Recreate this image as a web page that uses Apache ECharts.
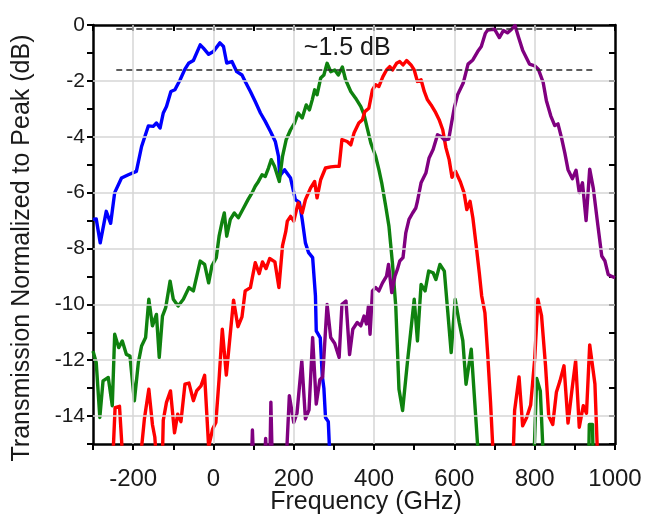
<!DOCTYPE html>
<html><head><meta charset="utf-8">
<script src="https://cdn.jsdelivr.net/npm/echarts@6/dist/echarts.min.js"></script>
<style>html,body{margin:0;padding:0;background:#fff}#c{width:646px;height:515px}</style>
</head><body><div id="c"></div>
<script>
// Frequency (GHz), transmission normalized to peak (dB); values below -15 are clipped by the axis
const blueData = [[-300,-6.96],[-292,-6.94],[-282,-7.8],[-267,-6.67],[-256,-7.1],[-246,-6.0],[-229,-5.48],[-212,-5.36],[-192,-5.24],[-179,-4.35],[-162,-3.61],[-150,-3.63],[-142,-3.51],[-133,-3.69],[-125,-3.15],[-117,-2.92],[-106,-2.38],[-96,-2.32],[-83,-1.96],[-71,-1.58],[-62,-1.37],[-50,-1.27],[-33,-0.71],[-25,-0.83],[-12,-1.05],[0,-0.95],[16,-0.64],[25,-0.77],[33,-1.36],[46,-1.31],[58,-1.67],[71,-1.79],[79,-2.02],[92,-2.38],[104,-2.74],[117,-3.15],[129,-3.45],[142,-3.81],[154,-4.17],[162,-4.7],[165,-5.4],[177,-5.18],[192,-5.48],[204,-6.25],[214,-6.35],[221,-6.96],[229,-7.8],[237,-8.15],[247,-8.33],[254,-9.7],[256,-10.95],[266,-11.2],[271,-12.56],[275,-13.0],[279,-14.05],[286,-14.2],[290,-15.5]];
const greenData = [[-300,-11.67],[-292,-12.08],[-283,-14.05],[-275,-12.74],[-262,-12.62],[-252,-13.63],[-246,-11.07],[-236,-11.55],[-227,-11.31],[-217,-11.79],[-208,-11.85],[-197,-13.45],[-187,-12.08],[-179,-11.49],[-169,-11.19],[-161,-9.82],[-152,-10.77],[-142,-10.36],[-135,-11.9],[-127,-10.42],[-119,-10.12],[-108,-9.17],[-100,-9.82],[-88,-10.06],[-75,-9.82],[-61,-9.4],[-50,-9.52],[-33,-8.45],[-22,-8.57],[-12,-9.23],[-4,-8.63],[7,-8.33],[14,-7.56],[21,-7.08],[27,-6.73],[33,-7.56],[42,-6.96],[52,-6.73],[62,-6.9],[75,-6.55],[86,-6.25],[96,-6.01],[104,-5.77],[112,-5.6],[121,-5.36],[129,-5.42],[137,-5.12],[144,-4.82],[152,-5.06],[164,-5.6],[172,-4.7],[181,-4.11],[192,-3.75],[202,-3.51],[211,-3.15],[221,-3.33],[231,-2.86],[239,-3.04],[246,-2.68],[252,-2.32],[258,-2.5],[267,-1.9],[275,-1.79],[283,-1.37],[292,-1.67],[302,-1.61],[311,-1.79],[321,-1.5],[329,-1.96],[342,-2.38],[354,-2.62],[367,-2.92],[375,-3.21],[383,-3.69],[392,-4.23],[404,-4.7],[412,-5.18],[419,-5.65],[429,-6.49],[437,-7.2],[446,-8.57],[454,-10.06],[462,-13.04],[471,-13.8],[483,-12.08],[500,-9.82],[508,-11.31],[517,-9.29],[527,-9.52],[536,-8.81],[547,-8.87],[554,-9.11],[564,-8.57],[575,-8.81],[583,-10.18],[592,-11.73],[602,-9.82],[612,-10.65],[621,-11.3],[629,-12.86],[642,-11.61],[648,-12.92],[660,-15.5],[700,-16],[797,-16],[805,-12.65],[814,-13.1],[823,-16],[934,-16],[936,-14.3],[944,-14.3],[946,-16]];
const redData = [[-252,-16],[-245,-13.7],[-234,-13.65],[-224,-16],[-185,-16],[-172,-14.1],[-161,-13.04],[-152,-14.3],[-146,-14.76],[-140,-16],[-128,-16],[-125,-14.15],[-117,-13.51],[-107,-13.1],[-97,-14.6],[-89,-13.93],[-81,-14.2],[-71,-12.86],[-61,-12.82],[-50,-13.45],[-42,-13.1],[-31,-12.92],[-22,-12.54],[-12,-15.1],[-2,-14.46],[6,-14.23],[14,-12.68],[22,-10.89],[32,-12.53],[50,-9.85],[61,-10.8],[71,-10.45],[79,-9.52],[92,-9.4],[104,-8.51],[114,-8.9],[122,-8.48],[131,-8.72],[140,-8.36],[153,-8.48],[163,-9.4],[172,-7.9],[180,-7.4],[184,-7.02],[192,-6.85],[200,-7.02],[211,-6.37],[221,-6.73],[229,-6.25],[242,-5.83],[252,-5.6],[258,-6.19],[267,-5.54],[279,-5.12],[292,-5.08],[304,-5.06],[313,-5.06],[320,-4.1],[333,-4.17],[342,-4.29],[350,-3.87],[362,-3.51],[371,-3.39],[377,-3.1],[387,-2.98],[396,-2.32],[404,-2.14],[412,-2.2],[422,-1.85],[431,-1.61],[439,-1.49],[446,-1.61],[456,-1.37],[464,-1.31],[472,-1.43],[481,-1.27],[492,-1.43],[500,-1.61],[508,-2.02],[517,-1.96],[525,-2.38],[533,-2.68],[542,-2.86],[552,-3.1],[562,-3.39],[571,-3.75],[579,-4.4],[587,-4.82],[594,-5.45],[603,-5.24],[615,-5.62],[624,-6.0],[631,-6.61],[639,-6.31],[646,-6.9],[654,-7.86],[662,-8.87],[668,-9.7],[676,-10.3],[683,-11.8],[690,-13.5],[697,-15.5],[745,-16],[750,-13.8],[761,-12.6],[770,-14.35],[780,-14.05],[790,-13.6],[800,-11.96],[808,-9.82],[817,-10.4],[827,-12.2],[835,-14.0],[845,-14.3],[854,-13.15],[863,-12.74],[873,-12.2],[883,-14.25],[893,-13.04],[902,-12.02],[911,-14.4],[921,-13.63],[929,-13.9],[937,-11.45],[950,-12.85],[958,-16]];
const purpleData = [[94,-16],[97,-14.5],[101,-16],[126,-16],[130,-14.8],[134,-16],[140,-16],[143,-13.5],[147,-16],[180,-16],[189,-13.27],[200,-14.23],[208,-13.9],[220,-12.02],[229,-14.1],[238,-13.78],[247,-11.19],[256,-13.57],[265,-12.7],[272,-12.6],[283,-10.0],[292,-11.19],[302,-11.4],[313,-11.9],[320,-10.0],[330,-9.88],[339,-11.8],[347,-10.89],[358,-10.65],[367,-10.77],[375,-10.42],[381,-10.7],[386,-10.06],[390,-11.07],[396,-9.52],[404,-9.4],[412,-9.52],[421,-9.23],[431,-8.99],[436,-8.57],[444,-9.58],[452,-8.99],[458,-8.75],[464,-8.45],[472,-8.33],[479,-7.44],[487,-6.96],[496,-6.73],[504,-6.55],[508,-6.31],[517,-5.65],[529,-5.3],[537,-4.76],[547,-4.46],[558,-3.93],[568,-4.0],[575,-4.11],[586,-4.08],[593,-3.5],[600,-2.95],[608,-2.5],[622,-2.08],[634,-1.4],[646,-1.25],[658,-0.95],[667,-0.77],[677,-0.3],[683,-0.18],[692,-0.16],[700,-0.15],[712,-0.45],[722,-0.2],[732,-0.28],[742,-0.16],[751,-0.02],[760,-0.45],[770,-0.9],[787,-1.4],[800,-1.46],[809,-1.58],[821,-2.05],[829,-2.7],[840,-3.25],[850,-3.6],[858,-3.54],[867,-4.05],[875,-4.58],[883,-5.18],[894,-5.5],[903,-5.2],[911,-6.0],[919,-5.65],[928,-7.0],[937,-5.16],[946,-5.85],[956,-7.02],[967,-8.27],[975,-8.45],[983,-8.93],[992,-9.0],[1000,-9.05]];

const xGridValues = [-200, 0, 200, 400, 600, 800];
const yGridValues = [-2, -4, -6, -8, -10, -12, -14];
const dashLevels = [-0.15, -1.6];
const dashSpan = [-242, 950];
const annotationText = '~1.5 dB';
const annotationAt = [225, -0.82];
const xTitle = 'Frequency (GHz)';
const yTitle = 'Transmission Normalized to Peak (dB)';

const FONT = '"Liberation Sans", Arial, sans-serif';
const TXT = '#1a1a1a';
const chart = echarts.init(document.getElementById('c'), null, {renderer: 'canvas'});

function curve(name, data, color) {
  return {type: 'line', name, data, symbol: 'none', showSymbol: false, clip: true, z: 3,
    lineStyle: {color, width: 3.4, join: 'round'}, emphasis: {disabled: true}};
}
const axisLineStyle = {show: true, onZero: false, lineStyle: {color: '#000', width: 2.5}};

chart.setOption({
  animation: false,
  backgroundColor: '#fff',
  grid: {left: 93, right: 31, top: 25, bottom: 71},
  xAxis: [
    {type: 'value', min: -300, max: 1000, interval: 100, position: 'bottom',
     axisLine: axisLineStyle,
     axisTick: {show: true, length: 6, lineStyle: {color: '#000', width: 2}},
     axisLabel: {formatter: v => (v % 200 === 0 ? String(v) : ''), fontSize: 24, color: TXT, fontFamily: FONT, margin: 23},
     splitLine: {show: false}},
    {type: 'value', min: -300, max: 1000, interval: 100, position: 'top',
     axisLine: axisLineStyle,
     axisTick: {show: true, inside: true, length: 6, lineStyle: {color: '#000', width: 2}},
     axisLabel: {show: false}, splitLine: {show: false}}
  ],
  yAxis: [
    {type: 'value', min: -15, max: 0, interval: 1, position: 'left',
     axisLine: axisLineStyle,
     axisTick: {show: true, length: 6, lineStyle: {color: '#000', width: 2}},
     axisLabel: {formatter: v => (v % 2 === 0 ? String(v) : ''), fontSize: 21, color: TXT, fontFamily: FONT, margin: 8},
     splitLine: {show: false}},
    {type: 'value', min: -15, max: 0, interval: 1, position: 'right',
     axisLine: axisLineStyle,
     axisTick: {show: true, inside: true, length: 6, lineStyle: {color: '#000', width: 2}},
     axisLabel: {show: false}, splitLine: {show: false}}
  ],
  series: [
    {type: 'line', data: [], z: 1, silent: true,
     markLine: {silent: true, symbol: 'none', animation: false, label: {show: false},
       lineStyle: {color: '#d6d6d6', width: 1.5, type: 'solid'},
       emphasis: {disabled: true},
       data: xGridValues.map(v => ({xAxis: v})).concat(yGridValues.map(v => ({yAxis: v})))}},
    curve('blue', blueData, '#0000ff'),
    curve('green', greenData, '#0f820f'),
    curve('red', redData, '#ff0000'),
    curve('purple', purpleData, '#800080'),
    {type: 'line', data: [], z: 4, silent: true,
     markLine: {silent: true, symbol: 'none', animation: false, label: {show: false},
       lineStyle: {color: '#2a2a2a', width: 1.6, type: [6, 4]},
       emphasis: {disabled: true},
       data: dashLevels.map(v => [{coord: [dashSpan[0], v]}, {coord: [dashSpan[1], v]}])}}
  ]
});

const p = chart.convertToPixel({gridIndex: 0}, annotationAt);
chart.setOption({
  graphic: [
    {type: 'text', x: p[0], y: p[1], z: 10,
     style: {text: annotationText, font: '25px ' + FONT, fill: TXT, textAlign: 'left', textVerticalAlign: 'middle'}},
    {type: 'text', x: 366, y: 502, z: 10,
     style: {text: xTitle, font: '25px ' + FONT, fill: TXT, textAlign: 'center', textVerticalAlign: 'middle'}},
    {type: 'text', x: 22, y: 248, rotation: Math.PI / 2, z: 10,
     style: {text: yTitle, font: '25px ' + FONT, fill: TXT, textAlign: 'center', textVerticalAlign: 'middle'}}
  ]
});
</script>
</body></html>
